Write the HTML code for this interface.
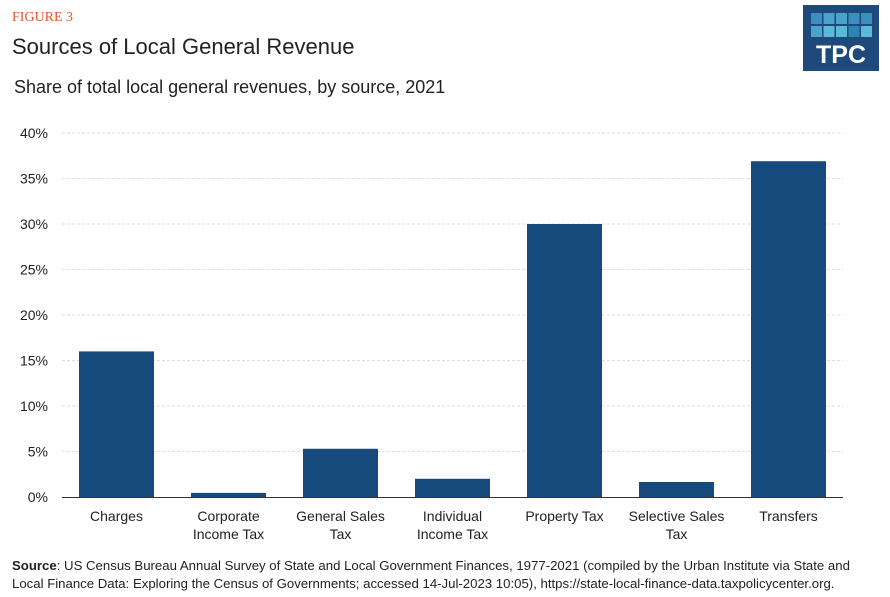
<!DOCTYPE html>
<html><head><meta charset="utf-8"><style>
body{margin:0;width:890px;height:597px;background:#fff;font-family:"Liberation Sans",sans-serif;position:relative;overflow:hidden}
.a{position:absolute;white-space:nowrap}
</style></head><body>
<div class="a" style="left:12px;top:10px;font-family:'Liberation Serif',serif;font-size:14px;color:#e8532b">FIGURE 3</div>
<div class="a" style="left:12px;top:34px;font-size:22px;color:#222">Sources of Local General Revenue</div>
<div class="a" style="left:14px;top:77px;font-size:18px;color:#222">Share of total local general revenues, by source, 2021</div>
<svg class="a" style="left:803px;top:5px" width="76" height="66">
<rect width="76" height="66" fill="#1d4a7a"/>
<g id="sq"></g>
<text x="38" y="58" text-anchor="middle" fill="#fff" font-size="25" font-weight="bold" font-family="Liberation Sans">TPC</text>
</svg>
<svg id="chart" class="a" style="left:0;top:0" width="890" height="560"></svg>
<div class="a" style="left:12px;top:557px;font-size:13.2px;line-height:18px;color:#222"><b>Source</b>: US Census Bureau Annual Survey of State and Local Government Finances, 1977-2021 (compiled by the Urban Institute via State and<br>Local Finance Data: Exploring the Census of Governments; accessed 14-Jul-2023 10:05), https://state-local-finance-data.taxpolicycenter.org.</div>
<script>
const categories=[["Charges"],["Corporate","Income Tax"],["General Sales","Tax"],["Individual","Income Tax"],["Property Tax"],["Selective Sales","Tax"],["Transfers"]];
const values=[16.0,0.45,5.3,2.0,30.0,1.65,36.9];
const ticks=[0,5,10,15,20,25,30,35,40];
const tickLabels=["0%","5%","10%","15%","20%","25%","30%","35%","40%"];
const NS="http://www.w3.org/2000/svg";
const svg=document.getElementById('chart');
const x0=60.5,step=112,bw=75,y0=497,ppu=9.1;
const y=v=>y0-v*ppu;
const xc=i=>x0+step*(i+0.5);
function mk(t,a){const e=document.createElementNS(NS,t);for(const k in a)e.setAttribute(k,a[k]);svg.appendChild(e);return e;}
ticks.forEach((t,i)=>{
 if(t>0){const g=mk('line',{x1:62,x2:843,y1:y(t),y2:y(t),stroke:'#ddd','stroke-dasharray':'3,2','stroke-width':1});
 
 }
 const l=mk('text',{x:48,y:y(t)+5,'text-anchor':'end','font-size':14,fill:'#222','font-family':'Liberation Sans'});
 l.textContent=tickLabels[i];
 
 
});
values.forEach((v,i)=>{
 const r=mk('rect',{x:xc(i)-bw/2,y:y(v),width:bw,height:v*ppu,fill:'#174a7c'});
 
 
 categories[i].forEach((s,j)=>{
  const t=mk('text',{x:xc(i),y:521+j*18,'text-anchor':'middle','font-size':14,fill:'#222','font-family':'Liberation Sans'});
  t.textContent=s;
  
  
 });
});
const ax=mk('line',{x1:62,x2:843,y1:y0+0.5,y2:y0+0.5,stroke:'#333','stroke-width':1});


const sq=document.getElementById('sq');
const cols=[["#3a8fbf","#4aa3cc"],["#4aa3cc","#5ab8d8"],["#4aa3cc","#5ab8d8"],["#3a8fbf","#2a86b0"],["#3a8fbf","#5ab8d8"]];
for(let c=0;c<5;c++)for(let r=0;r<2;r++){
 const e=document.createElementNS(NS,'rect');
 e.setAttribute('x',8+c*12.5);e.setAttribute('y',8+r*13);e.setAttribute('width',11);e.setAttribute('height',11);e.setAttribute('fill',cols[c][r]);
 sq.appendChild(e);
}
</script>
</body></html>
